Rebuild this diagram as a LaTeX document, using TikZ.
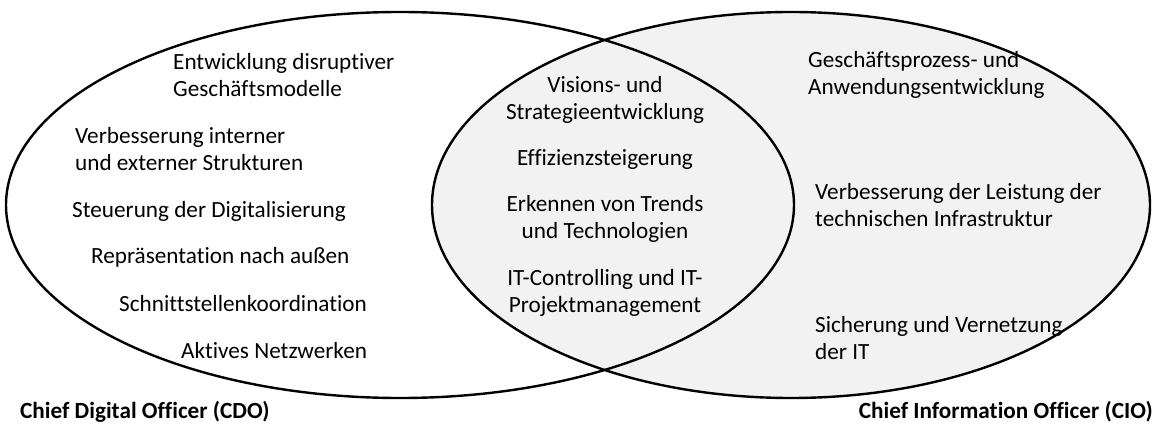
\documentclass[tikz,border=0pt]{standalone}
\usepackage{fontspec}
\setmainfont{Carlito}[Ligatures=NoCommon]
\begin{document}
\begin{tikzpicture}[x=1pt,y=-1pt,
  ring/.style={line width=2.4pt,black},
  item/.style={inner sep=0pt,font=\fontsize{23.2}{27}\selectfont},
  itemL/.style={item,anchor=west,align=left},
  itemC/.style={item,anchor=center,align=center},
  role/.style={inner sep=0pt,font=\fontsize{23.2}{27}\selectfont\bfseries}]
\useasboundingbox (0,0) rectangle (1159,430);
% CIO area (shaded), CDO area (white)
\fill[fill={rgb,255:red,242;green,242;blue,242}] (791,205) ellipse [x radius=359pt, y radius=193pt];

% CDO tasks
\node[itemL] (cdo1) at (173,75) {Entwicklung disruptiver\\Geschäftsmodelle};
\node[itemL] (cdo2) at (75,149) {Verbesserung interner\\und externer Strukturen};
\node[itemL] (cdo3) at (72,211) {Steuerung der Digitalisierung};
\node[itemL] (cdo4) at (91,257) {Repräsentation nach außen};
\node[itemL] (cdo5) at (119,304) {Schnittstellenkoordination};
\node[itemL] (cdo6) at (181,351) {Aktives Netzwerken};

% shared tasks
\node[itemC] (both1) at (605,100) {Visions- und\\Strategieentwicklung};
\node[itemC] (both2) at (605,160) {Effizienzsteigerung};
\node[itemC] (both3) at (605,219) {Erkennen von Trends\\und Technologien};
\node[itemC] (both4) at (605,293) {IT-Controlling und IT-\\Projektmanagement};

% CIO tasks
\node[itemL] (cio1) at (808,75) {Geschäftsprozess- und\\Anwendungsentwicklung};
\node[itemL] (cio2) at (815,205) {Verbesserung der Leistung der\\technischen Infrastruktur};
\node[itemL] (cio3) at (815,338) {Sicherung und Vernetzung\\der IT};

% outlines
\draw[ring] (400,205) ellipse [x radius=394pt, y radius=193pt];
\draw[ring] (791,205) ellipse [x radius=359pt, y radius=193pt];

% roles
\node[role,anchor=west] (cdo) at (20,412) {Chief Digital Officer (CDO)};
\node[role,anchor=east] (cio) at (1153,412) {Chief Information Officer (CIO)};
\end{tikzpicture}
\end{document}
